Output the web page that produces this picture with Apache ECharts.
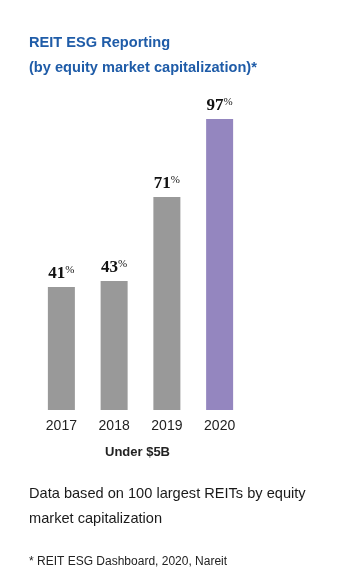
<!DOCTYPE html>
<html>
<head>
<meta charset="utf-8">
<script src="https://cdn.jsdelivr.net/npm/echarts@6/dist/echarts.min.js"></script>
<style>
html,body{margin:0;padding:0;background:#fff;}
#chart{width:360px;height:580px;}
</style>
</head>
<body>
<div id="chart"></div>
<script>
const years = ['2017', '2018', '2019', '2020'];
const values = [41, 43, 71, 97];
const barColors = ['#999999', '#999999', '#999999', '#9486bf'];
const titleLines = ['REIT ESG Reporting', '(by equity market capitalization)*'];
const axisTitle = 'Under $5B';
const noteLines = ['Data based on 100 largest REITs by equity', 'market capitalization'];
const footnote = '* REIT ESG Dashboard, 2020, Nareit';

const chart = echarts.init(document.getElementById('chart'), null, {renderer: 'canvas'});
const option = {
  backgroundColor: '#ffffff',
  animation: false,
  title: {
    text: titleLines.join('\n'),
    left: 29, top: 30, padding: 0,
    textStyle: {fontFamily: 'Liberation Sans, Arial, sans-serif', fontWeight: 'bold', fontSize: 14.6, color: '#1f5ca8', lineHeight: 25}
  },
  grid: {left: 35, width: 211, top: 110, height: 300},
  xAxis: {
    type: 'category',
    data: years,
    axisLine: {show: false},
    axisTick: {show: false},
    axisLabel: {fontFamily: 'Liberation Sans, Arial, sans-serif', fontSize: 14, color: '#222', margin: 9},
    name: axisTitle,
    nameLocation: 'middle',
    nameGap: 36,
    nameTextStyle: {fontFamily: 'Liberation Sans, Arial, sans-serif', fontWeight: 'bold', fontSize: 13, color: '#222', padding: [0, 6, 0, 0]}
  },
  yAxis: {type: 'value', min: 0, max: 100, show: false, splitLine: {show: false}},
  series: [{
    type: 'bar',
    barWidth: 27,
    data: values.map((v, i) => ({value: v, itemStyle: {color: barColors[i]}})),
    label: {
      show: true,
      position: 'top',
      distance: 4,
      formatter: p => '{n|' + p.value + '}{p|%}',
      rich: {
        n: {fontFamily: 'Liberation Serif, DejaVu Serif, serif', fontWeight: 'bold', fontSize: 17, color: '#111', lineHeight: 18},
        p: {fontFamily: 'Liberation Serif, DejaVu Serif, serif', fontSize: 11, color: '#111', padding: [0, 0, 7, 0]}
      }
    }
  }],
  graphic: [
    {type: 'text', left: 29, top: 481, style: {text: noteLines.join('\n'), font: '14.6px "Liberation Sans", Arial, sans-serif', fill: '#1a1a1a', lineHeight: 25}},
    {type: 'text', left: 29, top: 556, style: {text: footnote, font: '12px "Liberation Sans", Arial, sans-serif', fill: '#222'}}
  ]
};
chart.setOption(option);
</script>
</body>
</html>
